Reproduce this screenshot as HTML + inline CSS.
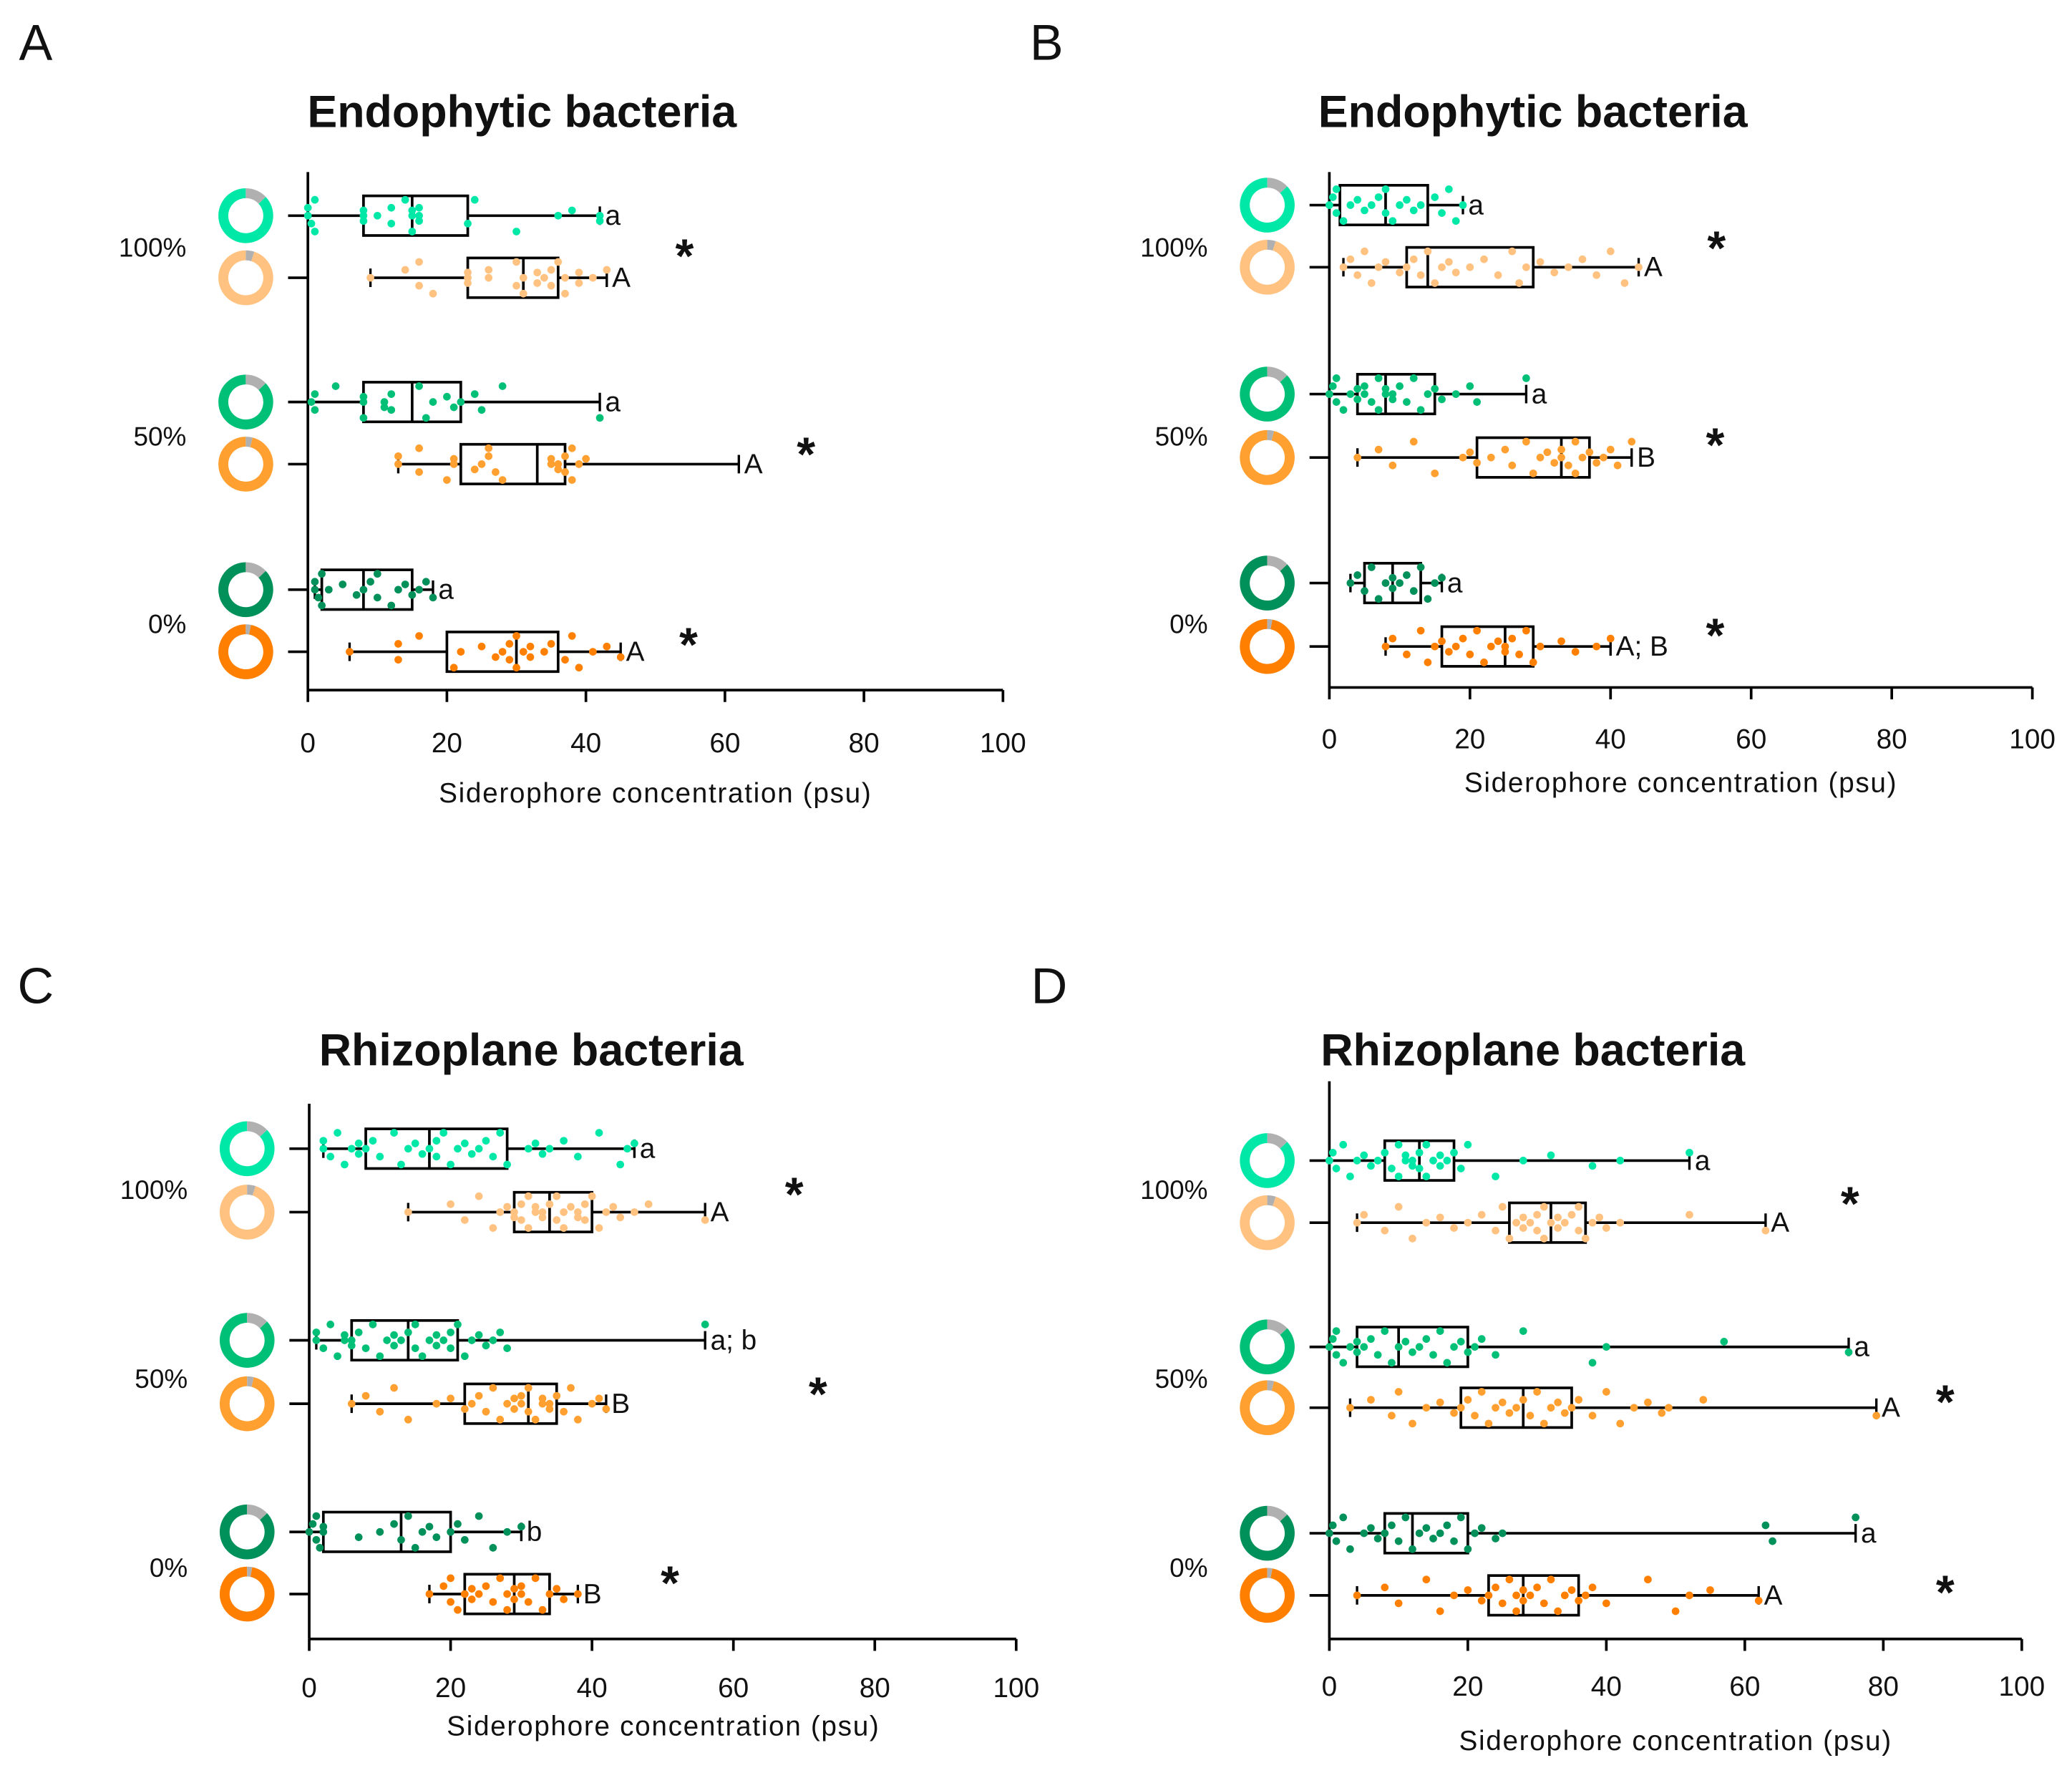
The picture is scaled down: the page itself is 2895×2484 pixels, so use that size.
<!DOCTYPE html>
<html><head><meta charset="utf-8"><style>
html,body{margin:0;padding:0;background:#fff}
svg{display:block}
text{font-family:"Liberation Sans",sans-serif;fill:#111}
</style></head><body>
<svg id="fig" width="2895" height="2484" viewBox="0 0 1568 1345" xmlns="http://www.w3.org/2000/svg"></svg>
<script>
// ---- data ----
const groupLabels = ["100%","50%","0%"];
const tickLabels = ["0","20","40","60","80","100"];
const tickValues = [0,20,40,60,80,100];
const panelTitles = ["Endophytic bacteria","Endophytic bacteria","Rhizoplane bacteria","Rhizoplane bacteria"];
const panelLetters = ["A","B","C","D"];
// box stats [min,q1,median,q3,max] per row: 100g,100o,50g,50o,0g,0o
const statsA = [[0,8,15,23,42],[9,23,31,36,43],[0,8,15,22,42],[13,22,33,37,62],[1,2,8,15,18],[6,20,30,36,45]];
const statsB = [[0,1.5,8,14,19],[2,11,14,29,44],[0,4,8,15,28],[4,21,33,37,43],[3,5,9,13,16],[8,16,25,29,40]];
const statsC = [[2,8,17,28,46],[14,29,34,40,56],[1,6,14,21,56],[6,22,31,35,42],[0,2,13,20,30],[17,22,29,34,38]];
const statsD = [[0,8,13,18,52],[4,26,32,37,63],[0,4,10,20,75],[3,19,28,35,79],[0,8,12,20,76],[4,23,28,36,62]];
const lettersA = ["a","A","a","A","a","A"];
const lettersB = ["a","A","a","B","a","A; B"];
const lettersC = ["a","A","a; b","B","b","B"];
const lettersD = ["a","A","a","A","a","A"];
// points per row
const ptsA = [
 [0,0,0.5,1,1,8,8,8,10,12,12,14,15,15,15,16,16,16,23,24,30,36,38,42,42],
 [9,14,16,16,18,23,23,23,26,26,30,30,31,31,33,33,34,35,35,36,37,37,39,39,41,43],
 [0.5,1,1,4,8,8,8,11,11,12,12,16,17,18,20,21,22,24,25,28,42],
 [13,13,16,16,20,21,21,24,25,26,27,26,28,35,35,36,36,37,37,38,38,39,40],
 [1,1,1.5,2,2,3,5,7,8,9,10,10,12,13,14,15,16,17,18],
 [6,13,13,16,21,22,25,27,28,29,29,30,30,31,32,32,34,35,37,38,39,41,43,45]];
const ptsB = [
 [0,0.5,1,1,2,3,4,5,6,7,8,8,9,10,11,12,13,15,16,17,18,19],
 [2,3,4,5,6,7,8,10,11,12,13,14,15,16,17,18,20,22,24,26,27,28,30,32,34,36,38,40,42,44],
 [0,0.5,1,1,2,3,4,4,5,5,6,7,7,8,8,9,9,10,11,12,13,14,15,16,18,20,21,28],
 [4,7,9,12,15,19,20,21,23,25,26,28,29,30,31,32,33,33,34,35,35,36,37,38,39,40,41,43],
 [3,4,5,6,7,8,9,9,10,11,12,13,14,15,16],
 [8,9,11,13,14,15,16,17,18,19,20,21,22,23,24,25,25,26,27,28,29,30,33,35,38,40]];
const ptsC = [
 [2,2,3,4,5,6,7,7,8,9,10,12,13,14,15,16,17,18,18,19,20,21,22,23,24,25,26,27,28,31,32,33,34,36,38,41,44,45,46],
 [14,20,22,24,26,27,28,29,29,30,30,31,31,32,32,33,33,34,35,35,36,36,37,38,38,39,39,40,41,42,43,44,46,48,56],
 [1,1,2,3,4,5,5,6,6,7,8,9,10,11,12,12,13,14,15,15,16,17,18,18,19,20,20,21,22,23,24,25,26,27,28,56],
 [6,8,10,12,14,18,20,22,23,24,25,26,27,28,29,29,30,30,31,31,32,33,33,34,34,35,36,37,38,40,41,42],
 [0,0.5,1,1,1.5,2,2,7,10,12,13,14,15,16,17,18,20,21,22,24,26,28,30],
 [17,19,20,20,21,22,23,23,24,25,26,27,28,28,29,29,30,30,31,32,33,34,35,36,38]];
const ptsD = [
 [0,0.5,1,2,3,4,5,6,7,8,9,10,10,11,11,12,12,13,13,14,14,15,16,16,17,18,19,20,24,28,32,38,42,52],
 [4,5,8,10,12,14,16,18,20,22,24,25,26,27,28,28,29,30,30,31,31,32,33,33,34,35,36,36,37,38,39,40,42,52,63],
 [0,0.5,1,1,2,3,4,4,5,6,7,8,9,10,11,12,13,14,15,16,17,18,19,20,21,22,24,28,38,40,57,75],
 [3,6,9,10,12,14,16,18,19,20,21,22,23,24,25,26,27,28,29,30,31,32,33,34,35,36,38,40,42,44,46,48,49,54,79],
 [0,0.5,1,2,3,5,6,7,8,9,10,11,12,13,14,15,16,17,18,19,20,21,22,24,25,63,64,76],
 [4,8,10,14,16,18,20,22,23,24,25,26,27,27,28,28,29,30,31,32,33,34,35,36,37,38,40,46,50,52,55,62]];
const allStats=[statsA,statsB,statsC,statsD];
const allLetters=[lettersA,lettersB,lettersC,lettersD];
const allPts=[ptsA,ptsB,ptsC,ptsD];
// ---- layout ----
const layouts=[
 {x0:233,x1:759,yTop:130,yAxis:522,rows:[163,210,304,351,446,493],grp:[187,330,472],title:[395,84],letter:[27,32],tickY:562,xlab:[496,600],stars:[[518,190],[610,340],[521,484]]},
 {x0:1006,x1:1538,yTop:130,yAxis:520,rows:[155,202,298,346,441,489],grp:[187,330,472],title:[1160,84],letter:[792,32],tickY:559,xlab:[1272,592],stars:[[1299,184],[1298,333],[1298,477]]},
 {x0:234,x1:769,yTop:835,yAxis:1240,rows:[869,917,1014,1062,1159,1206],grp:[900,1043,1186],title:[402,794],letter:[27,746],tickY:1277,xlab:[502,1306],stars:[[601,900],[619,1051],[507,1194]]},
 {x0:1006,x1:1530,yTop:818,yAxis:1240,rows:[878,925,1019,1065,1160,1207],grp:[900,1043,1186],title:[1160,794],letter:[794,746],tickY:1276,xlab:[1268,1317],stars:[[1400,907],[1472,1057],[1472,1201]]}];
const colors=["#00e8a8","#ffc280","#00c078","#ffa030","#00905a","#ff8000"];
const grayFrac=[0.13,0.05,0.13,0.04,0.13,0.03];
const svg=document.getElementById('fig');
const NS="http://www.w3.org/2000/svg";
function mk(tag,attrs,parent){const e=document.createElementNS(NS,tag);for(const k in attrs)e.setAttribute(k,attrs[k]);(parent||svg).appendChild(e);return e;}
function txt(s,x,y,size,anchor,weight,parent){const t=mk('text',{x:x,y:y,'font-size':size,'text-anchor':anchor||'start','font-weight':weight||'normal'},parent);t.textContent=s;return t;}
function arc(cx,cy,r,a0,a1){const p0=[cx+r*Math.sin(a0),cy-r*Math.cos(a0)],p1=[cx+r*Math.sin(a1),cy-r*Math.cos(a1)];const large=(a1-a0)>Math.PI?1:0;return `M${p0[0]},${p0[1]} A${r},${r} 0 ${large} 1 ${p1[0]},${p1[1]}`;}
layouts.forEach((L,pi)=>{
 const g=mk('g',{});
 
 
 const xs=v=>L.x0+(L.x1-L.x0)*v/100;
 let t=txt(panelLetters[pi],L.letter[0],L.letter[1]+13,38,'middle','normal',g);
 
 t=txt(panelTitles[pi],L.title[0],L.title[1]+12,34,'middle','bold',g);
 
 // axes
 let a=mk('line',{x1:L.x0,y1:L.yTop,x2:L.x0,y2:L.yAxis,stroke:'#000','stroke-width':2},g);
 
 a=mk('line',{x1:L.x0,y1:L.yAxis,x2:L.x1,y2:L.yAxis,stroke:'#000','stroke-width':2},g);
 
 tickValues.forEach((v,i)=>{
  mk('line',{x1:xs(v),y1:L.yAxis,x2:xs(v),y2:L.yAxis+9,stroke:'#000','stroke-width':2},g);
  const tl=txt(tickLabels[i],xs(v),L.tickY+7,21,'middle','normal',g);
  
 });
 t=txt('Siderophore concentration (psu)',L.xlab[0],L.xlab[1]+7,21,'middle','normal',g);
 
 t.setAttribute('letter-spacing','0.9');
 groupLabels.forEach((s,i)=>{const gl=txt(s,141,L.grp[i]+7,20,'end','normal',g);gl.setAttribute('x',L.x0-92);
  });
 L.stars.forEach(s=>{const st=txt('*',s[0],s[1]+16,36,'middle','bold',g);
  });
 const stats=allStats[pi],letters=allLetters[pi],pts=allPts[pi];
 L.rows.forEach((y,ri)=>{
  const c=colors[ri],s=stats[ri];
  const rg=mk('g',{},g);
  
  const cx=L.x0-47,r=17,gf=grayFrac[ri]*2*Math.PI;
  const d1=mk('path',{d:arc(cx,y,r,gf,2*Math.PI-0.001),fill:'none',stroke:c,'stroke-width':7.5},rg);
  
  mk('path',{d:arc(cx,y,r,0,gf),fill:'none',stroke:'#b0b0b0','stroke-width':7.5},rg);
  mk('line',{x1:L.x0-15,y1:y,x2:L.x0,y2:y,stroke:'#000','stroke-width':2},rg);
  mk('line',{x1:xs(s[0]),y1:y,x2:xs(s[1]),y2:y,stroke:'#000','stroke-width':2},rg);
  mk('line',{x1:xs(s[3]),y1:y,x2:xs(s[4]),y2:y,stroke:'#000','stroke-width':2},rg);
  mk('line',{x1:xs(s[0]),y1:y-7,x2:xs(s[0]),y2:y+7,stroke:'#000','stroke-width':1.8},rg);
  mk('line',{x1:xs(s[4]),y1:y-7,x2:xs(s[4]),y2:y+7,stroke:'#000','stroke-width':1.8},rg);
  const b=mk('rect',{x:xs(s[1]),y:y-15,width:xs(s[3])-xs(s[1]),height:30,fill:'none',stroke:'#000','stroke-width':2},rg);
  
  mk('line',{x1:xs(s[2]),y1:y-15,x2:xs(s[2]),y2:y+15,stroke:'#000','stroke-width':2},rg);
  const offs=[0,-6,6,-12,12,0,-4,4];
  pts[ri].forEach((v,k)=>{
   const dot=mk('circle',{cx:xs(v),cy:y+offs[k%offs.length],r:2.9,fill:c},rg);
   
  });
  const lt=txt(letters[ri],xs(s[4])+4,y+7,21,'start','normal',rg);
  
 });
});
</script>
</body></html>
